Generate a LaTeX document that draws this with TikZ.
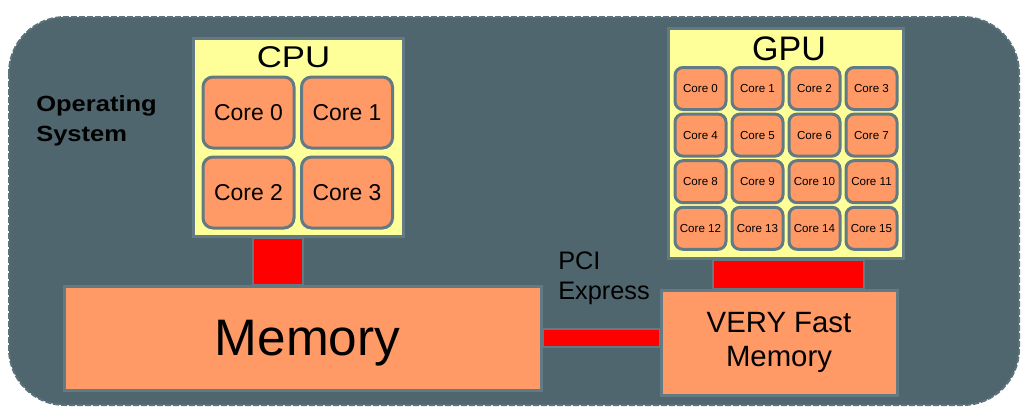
\documentclass[tikz,border=0pt]{standalone}
\usepackage{fontspec}
\setmainfont{Liberation Sans}
\newfontfamily\widefont[FakeStretch=1.16]{Liberation Sans}
\definecolor{osgray}{RGB}{80,102,110}
\definecolor{osedge}{RGB}{92,114,122}
\definecolor{edgegray}{RGB}{97,122,131}
\definecolor{coreorange}{RGB}{255,153,102}
\definecolor{chipyellow}{RGB}{255,255,153}
\tikzset{
  osbox/.style={fill=osgray, draw=osedge, line width=1.5pt, dash pattern=on 4.5pt off 1.5pt, rounded corners=42pt},
  chip/.style={draw=edgegray, line width=2.25pt, fill=chipyellow, inner sep=0pt},
  memblock/.style={draw=edgegray, line width=2.25pt, fill=coreorange, inner sep=0pt, align=center},
  cpucore/.style={draw=edgegray, line width=2.25pt, fill=coreorange, rounded corners=7.5pt, inner sep=0pt,
    minimum width=68.25pt, minimum height=53.25pt, font=\fontsize{17.2}{20}\selectfont},
  gpucore/.style={draw=edgegray, line width=2.25pt, fill=coreorange, rounded corners=6pt, inner sep=0pt,
    minimum width=38.25pt, minimum height=31.5pt, font=\fontsize{8.7}{10}\selectfont},
  bus/.style={draw=edgegray, line width=1.5pt, fill=red},
}
\begin{document}
\begin{tikzpicture}[x=0.75pt, y=-0.75pt]
\useasboundingbox (0,0) rectangle (1025,418);
% operating system
\draw[osbox] (9,17) rectangle (1019,405);
\node[anchor=west, inner sep=0pt, align=left, font=\widefont\fontsize{16.5}{22.5}\selectfont\bfseries] (os) at (36,121) {Operating\\System};

% cpu and its cores
\node[chip, minimum width=157.5pt, minimum height=148.5pt] (cpu) at (298,137) {};
\node[inner sep=0pt, font=\widefont\fontsize{22.5}{26}\selectfont] (cpulabel) at (293.5,57) {CPU};
\foreach \n/\px/\py in {0/248.5/112.5, 1/347/112.5, 2/248.5/192.5, 3/347/192.5}
  \node[cpucore] (ccore\n) at (\px,\py) {Core \n};

% gpu and its cores
\node[chip, minimum width=176.25pt, minimum height=172.5pt] (gpu) at (785.5,143) {};
\node[inner sep=0pt, font=\fontsize{25.5}{28}\selectfont] (gpulabel) at (789,49) {GPU};
\foreach \r in {0,...,3}
  \foreach \c in {0,...,3} {
    \pgfmathtruncatemacro{\n}{4*\r+\c}
    \node[gpucore] (gcore\n) at ({700.5+57*\c},{88.5+46.6*\r}) {Core \n};
  }

% memories
\node[memblock, minimum width=357.75pt, minimum height=78pt, text depth=0pt,
  font=\fontsize{38.5}{44}\selectfont] (mem) at (302.5,338) {\hspace{7.5pt}Memory};
\node[memblock, minimum width=177pt, minimum height=78.75pt,
  font=\fontsize{22}{26}\selectfont] (vfm) at (779,342.5) {VERY Fast\\Memory};

% links
\draw[bus] ([xshift=-33.75pt]cpu.south) rectangle ([xshift=3.75pt]cpu.south |- mem.north);
\draw[bus] ([xshift=-54.4pt]gpu.south) rectangle ([xshift=58.9pt]gpu.south |- vfm.north);
\draw[bus] ([yshift=6.75pt]mem.east) rectangle ([yshift=-6.75pt]mem.east -| vfm.west);
\node[anchor=west, inner sep=0pt, align=left, font=\fontsize{19}{22.5}\selectfont] (pci) at (558,278) {PCI\\Express};
\end{tikzpicture}
\end{document}
